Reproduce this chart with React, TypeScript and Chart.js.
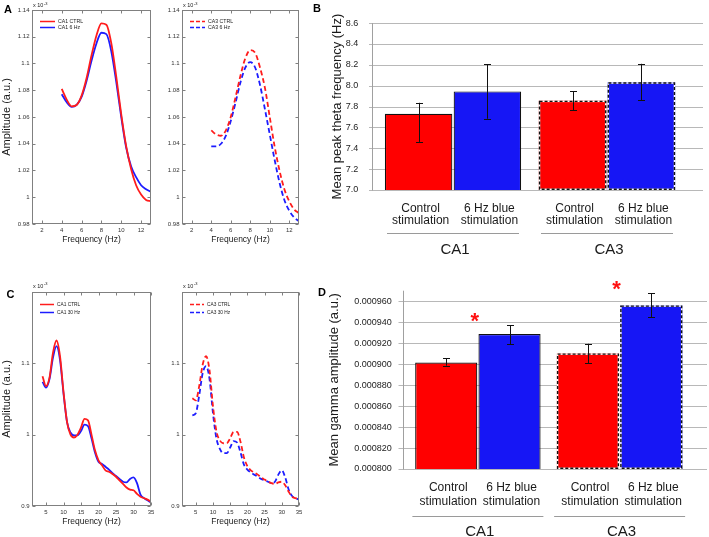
import React, { useEffect, useRef } from "react";
import { Chart, registerables } from "chart.js";

Chart.register(...registerables);

const FONT = '"Liberation Sans", Arial, Helvetica, sans-serif';
const RED_LINE = "#ff1c1c";
const BLUE_LINE = "#1c1cff";
const RED_BAR = "#ff0000";
const BLUE_BAR = "#1616f5";
const TEXT = "#1a1a1a";
const GRID = "#b8b8b8";
const AXIS = "#a0a0a0";
const BOX = "#808080";

// ---------- Panel A: theta-band spectra ----------
const thetaFreqHz = [4, 4.5, 5, 5.5, 6, 6.5, 7, 7.5, 8, 8.5, 9, 9.5, 10, 10.5, 11, 11.5, 12, 12.5, 13];
const ca1ThetaCtrl = [1.081, 1.073, 1.068, 1.069, 1.076, 1.089, 1.106, 1.121, 1.13, 1.129, 1.115, 1.09, 1.062, 1.038, 1.021, 1.009, 1.002, 0.998, 0.997];
const ca1Theta6Hz = [1.077, 1.071, 1.0675, 1.069, 1.075, 1.087, 1.102, 1.115, 1.123, 1.122, 1.109, 1.086, 1.06, 1.037, 1.023, 1.015, 1.009, 1.006, 1.004];
const ca3ThetaCtrl = [1.05, 1.047, 1.046, 1.05, 1.06, 1.075, 1.091, 1.104, 1.11, 1.108, 1.097, 1.082, 1.06, 1.038, 1.02, 1.006, 0.997, 0.991, 0.988];
const ca3Theta6Hz = [1.038, 1.038, 1.04, 1.046, 1.057, 1.071, 1.086, 1.097, 1.101, 1.097, 1.084, 1.066, 1.047, 1.028, 1.011, 0.998, 0.99, 0.985, 0.982];
const thetaLegendCA1 = ["CA1 CTRL", "CA1 6 Hz"];
const thetaLegendCA3 = ["CA3 CTRL", "CA3 6 Hz"];
const thetaAmpTicks = [0.98, 1, 1.02, 1.04, 1.06, 1.08, 1.1, 1.12, 1.14];
const thetaFreqTicks = [2, 4, 6, 8, 10, 12];

// ---------- Panel C: gamma-band spectra ----------
const gammaFreqHz = [4, 5, 6, 7, 8, 9, 10, 11, 12, 13, 14, 15, 16, 17, 18, 19, 20, 21, 22, 23, 24, 25, 26, 27, 28, 29, 30, 31, 32, 33, 34, 35];
const ca1GammaCtrl = [1.082, 1.068, 1.08, 1.115, 1.132, 1.11, 1.06, 1.018, 1.0, 0.996, 1.0, 1.01, 1.022, 1.02, 1.0, 0.978, 0.964, 0.957, 0.95, 0.948, 0.945, 0.941, 0.936, 0.931, 0.926, 0.923, 0.922, 0.917, 0.913, 0.911, 0.909, 0.906];
const ca1Gamma30Hz = [1.074, 1.066, 1.078, 1.108, 1.124, 1.105, 1.058, 1.018, 1.003, 0.999, 0.999, 1.005, 1.014, 1.012, 0.995, 0.975, 0.962, 0.959, 0.955, 0.951, 0.946, 0.942, 0.938, 0.934, 0.933, 0.938, 0.94, 0.932, 0.916, 0.911, 0.908, 0.905];
const ca3GammaCtrl = [1.051, 1.048, 1.068, 1.098, 1.11, 1.09, 1.04, 1.005, 0.992, 0.988, 0.988, 0.995, 1.004, 1.004, 0.99, 0.968, 0.956, 0.95, 0.947, 0.944, 0.94, 0.937, 0.934, 0.932, 0.931, 0.933, 0.934, 0.929, 0.92, 0.913, 0.911, 0.909];
const ca3Gamma30Hz = [1.027, 1.03, 1.055, 1.086, 1.096, 1.078, 1.03, 0.995, 0.98, 0.974, 0.974, 0.982, 0.991, 0.989, 0.975, 0.958, 0.951, 0.947, 0.944, 0.941, 0.938, 0.936, 0.934, 0.932, 0.934, 0.944, 0.95, 0.94, 0.923, 0.914, 0.911, 0.909];
const gammaLegendCA1 = ["CA1 CTRL", "CA1 30 Hz"];
const gammaLegendCA3 = ["CA3 CTRL", "CA3 30 Hz"];
const gammaAmpTicks = [0.9, 1, 1.1];
const gammaFreqTicks = [5, 10, 15, 20, 25, 30, 35];
const ampExponent = "-3";

// ---------- Panel B: peak theta frequency ----------
const regions = ["CA1", "CA3"];
const stimLabels = [["Control", "stimulation"], ["6 Hz blue", "stimulation"]];
const thetaPeakCtrl = [7.73, 7.856];
const thetaPeakCtrlHi = [7.836, 7.945];
const thetaPeakCtrlLo = [7.461, 7.764];
const thetaPeak6Hz = [7.945, 8.032];
const thetaPeak6HzHi = [8.205, 8.21];
const thetaPeak6HzLo = [7.683, 7.859];
const thetaPeakTicks = [7.0, 7.2, 7.4, 7.6, 7.8, 8.0, 8.2, 8.4, 8.6];

// ---------- Panel D: mean gamma amplitude ----------
const gammaAmpCtrl = [0.0009015, 0.0009102];
const gammaAmpCtrlHi = [0.0009055, 0.0009194];
const gammaAmpCtrlLo = [0.0008985, 0.0009009];
const gammaAmp6Hz = [0.0009286, 0.000956];
const gammaAmp6HzHi = [0.0009372, 0.0009677];
const gammaAmp6HzLo = [0.0009188, 0.0009446];
const gammaSignificant = [true, true];
const gammaBarTicks = [0.0008, 0.00082, 0.00084, 0.00086, 0.00088, 0.0009, 0.00092, 0.00094, 0.00096];

// ---------- helpers ----------
function fmtNum(v: number) {
  return String(Number(v.toFixed(4)));
}

function matlabAxes(p: any) {
  return {
    id: "matlabAxes",
    afterDraw(chart: any) {
      const { ctx, chartArea: a } = chart;
      const xs = chart.scales.x;
      const ys = chart.scales.y;
      ctx.save();
      ctx.strokeStyle = BOX;
      ctx.lineWidth = 1;
      const L = Math.round(a.left) + 0.5;
      const T = Math.round(a.top) + 0.5;
      const R = Math.round(a.right) - 0.5;
      const B = Math.round(a.bottom) - 0.5;
      ctx.strokeRect(L, T, R - L, B - T);
      const tl = 3;
      ctx.beginPath();
      for (const t of xs.ticks) {
        const px = Math.round(xs.getPixelForValue(t.value)) + 0.5;
        ctx.moveTo(px, B);
        ctx.lineTo(px, B - tl);
        ctx.moveTo(px, T);
        ctx.lineTo(px, T + tl);
      }
      for (const t of ys.ticks) {
        const py = Math.round(ys.getPixelForValue(t.value)) + 0.5;
        ctx.moveTo(L, py);
        ctx.lineTo(L + tl, py);
        ctx.moveTo(R, py);
        ctx.lineTo(R - tl, py);
      }
      ctx.stroke();

      // exponent label
      ctx.fillStyle = TEXT;
      ctx.textAlign = "left";
      ctx.textBaseline = "alphabetic";
      ctx.font = `5.5px ${FONT}`;
      const bx = a.left + 1;
      const by = a.top - p.expGap;
      ctx.fillText("x 10", bx, by);
      const w = ctx.measureText("x 10").width;
      ctx.font = `4px ${FONT}`;
      ctx.fillText(ampExponent, bx + w + 0.5, by - 2.5);

      // legend
      chart.data.datasets.forEach((ds: any, i: number) => {
        const y = Math.round(a.top + p.leg.top + i * p.leg.gap) + 0.5;
        ctx.strokeStyle = ds.borderColor;
        ctx.lineWidth = 1.5;
        ctx.setLineDash(ds.borderDash && ds.borderDash.length ? [4, 2] : []);
        ctx.beginPath();
        ctx.moveTo(a.left + p.leg.x0, y);
        ctx.lineTo(a.left + p.leg.x1, y);
        ctx.stroke();
        ctx.setLineDash([]);
        ctx.fillStyle = TEXT;
        ctx.font = `${p.leg.font}px ${FONT}`;
        ctx.textBaseline = "middle";
        ctx.fillText(ds.label, a.left + p.leg.tx, y);
      });
      ctx.restore();
    },
  };
}

function lineConfig(p: any) {
  return {
    type: "line",
    data: {
      datasets: p.series.map((s: any) => ({
        label: s.label,
        data: p.freqs.map((f: number, i: number) => ({ x: f, y: s.values[i] })),
        borderColor: s.color,
        borderWidth: 1.8,
        borderDash: s.dash,
        pointRadius: 0,
        cubicInterpolationMode: "monotone",
        fill: false,
      })),
    },
    options: {
      responsive: false,
      animation: false,
      events: [],
      layout: { padding: { top: p.padTop, right: p.padRight, left: 0, bottom: 0 } },
      plugins: { legend: { display: false }, tooltip: { enabled: false } },
      scales: {
        x: {
          type: "linear",
          min: p.xMin,
          max: p.xMax,
          afterBuildTicks: (s: any) => {
            s.ticks = p.xTicks.map((v: number) => ({ value: v }));
          },
          afterFit: (s: any) => {
            s.height = p.xAxisH;
          },
          grid: { display: false, drawTicks: false },
          border: { display: false },
          ticks: {
            padding: 2.5,
            autoSkip: false,
            maxRotation: 0,
            color: "#333",
            font: { family: FONT, size: 6 },
            callback: (v: any) => fmtNum(Number(v)),
          },
          title: {
            display: true,
            text: "Frequency (Hz)",
            color: TEXT,
            font: { family: FONT, size: 8.5 },
            padding: { top: 0, bottom: p.xTitlePad },
          },
        },
        y: {
          type: "linear",
          min: p.yMin,
          max: p.yMax,
          afterBuildTicks: (s: any) => {
            s.ticks = p.yTicks.map((v: number) => ({ value: v }));
          },
          afterFit: (s: any) => {
            s.width = p.yAxisW;
          },
          grid: { display: false, drawTicks: false },
          border: { display: false },
          ticks: {
            padding: 2.5,
            autoSkip: false,
            color: "#333",
            font: { family: FONT, size: 6 },
            callback: (v: any) => fmtNum(Number(v)),
          },
          title: {
            display: p.showYTitle,
            text: "Amplitude (a.u.)",
            color: TEXT,
            font: { family: FONT, size: 11 },
            padding: { top: 0, bottom: 0 },
          },
        },
      },
    },
    plugins: [matlabAxes(p)],
  };
}

function barDecor(p: any) {
  return {
    id: "barDecor",
    beforeDatasetsDraw(chart: any) {
      const { ctx, chartArea: a } = chart;
      const ys = chart.scales.y;
      const axisX = Math.round(a.left - p.axisGap) + 0.5;
      ctx.save();
      ctx.lineWidth = 1;
      ctx.strokeStyle = GRID;
      ctx.beginPath();
      for (const t of ys.ticks) {
        const py = Math.round(ys.getPixelForValue(t.value)) + 0.5;
        ctx.moveTo(axisX - p.tickLen, py);
        ctx.lineTo(a.right + p.gridExt, py);
      }
      ctx.stroke();
      ctx.strokeStyle = AXIS;
      ctx.beginPath();
      ctx.moveTo(axisX, a.top);
      ctx.lineTo(axisX, Math.round(a.bottom) + 0.5);
      ctx.stroke();
      ctx.restore();
    },
    afterDatasetsDraw(chart: any) {
      const { ctx, chartArea: a } = chart;
      const ys = chart.scales.y;
      ctx.save();
      const metas = chart.data.datasets.map((_: any, di: number) => chart.getDatasetMeta(di));
      metas.forEach((meta: any, di: number) => {
        meta.data.forEach((el: any, i: number) => {
          const { x, y, base, width } = el.getProps(["x", "y", "base", "width"], true);
          const bottom = Math.min(base, a.bottom);
          if (p.dashed[i]) {
            const lw = 1.4;
            const l = x - width / 2 + lw / 2;
            const t = y + lw / 2;
            const w = width - lw;
            const h = bottom - y - lw;
            ctx.lineWidth = lw;
            ctx.setLineDash([]);
            ctx.strokeStyle = "#ffffff";
            ctx.strokeRect(l, t, w, h);
            ctx.setLineDash([3, 2]);
            ctx.strokeStyle = "#111";
            ctx.strokeRect(l, t, w, h);
            ctx.setLineDash([]);
          }
          // error bar
          const hi = ys.getPixelForValue(p.hi[di][i]);
          const lo = ys.getPixelForValue(p.lo[di][i]);
          const cx = Math.round(x) + 0.5;
          ctx.strokeStyle = "#111";
          ctx.lineWidth = 1;
          ctx.beginPath();
          ctx.moveTo(cx, hi);
          ctx.lineTo(cx, lo);
          ctx.moveTo(cx - 3.5, Math.round(hi) + 0.5);
          ctx.lineTo(cx + 3.5, Math.round(hi) + 0.5);
          ctx.moveTo(cx - 3.5, Math.round(lo) + 0.5);
          ctx.lineTo(cx + 3.5, Math.round(lo) + 0.5);
          ctx.stroke();
          // sub labels
          ctx.fillStyle = TEXT;
          ctx.font = `12px ${FONT}`;
          ctx.textAlign = "center";
          ctx.textBaseline = "middle";
          const lines = stimLabels[di];
          ctx.fillText(lines[0], x + 2, a.bottom + p.l1);
          ctx.fillText(lines[1], x + 2, a.bottom + p.l2);
        });
      });
      chart.data.labels.forEach((lab: string, i: number) => {
        const x0 = metas[0].data[i].x;
        const x1 = metas[1].data[i].x;
        const cx = (x0 + x1) / 2;
        ctx.strokeStyle = "#9a9a9a";
        ctx.lineWidth = 1;
        ctx.beginPath();
        const sy = Math.round(a.bottom + p.sepY) + 0.5;
        ctx.moveTo(cx - p.sepHalf, sy);
        ctx.lineTo(cx + p.sepHalf, sy);
        ctx.stroke();
        ctx.fillStyle = TEXT;
        ctx.font = `15px ${FONT}`;
        ctx.textAlign = "center";
        ctx.textBaseline = "middle";
        ctx.fillText(lab, cx + 2, a.bottom + p.grpY);
        if (p.sig && p.sig[i]) {
          const top = Math.min(ys.getPixelForValue(p.hi[0][i]), ys.getPixelForValue(p.hi[1][i]));
          const cy = top - p.astGap;
          ctx.fillStyle = "#ff1010";
          ctx.font = `bold 22px ${FONT}`;
          ctx.textBaseline = "alphabetic";
          ctx.fillText("*", cx + p.astDx, cy + 12.6);
        }
      });
      ctx.restore();
    },
  };
}

function barConfig(p: any) {
  return {
    type: "bar",
    data: {
      labels: regions,
      datasets: [
        {
          label: "Control stimulation",
          data: p.ctrl,
          backgroundColor: RED_BAR,
          borderColor: "#111",
          borderWidth: p.dashed.map((d: boolean) => (d ? 0 : 1.2)),
          borderSkipped: false,
        },
        {
          label: "6 Hz blue stimulation",
          data: p.stim,
          backgroundColor: BLUE_BAR,
          borderColor: "#111",
          borderWidth: p.dashed.map((d: boolean) => (d ? 0 : 1.2)),
          borderSkipped: false,
        },
      ],
    },
    options: {
      responsive: false,
      animation: false,
      events: [],
      layout: { padding: { top: p.padTop, right: p.padRight, bottom: p.padBottom, left: 0 } },
      datasets: { bar: { categoryPercentage: p.catPct, barPercentage: p.barPct } },
      plugins: { legend: { display: false }, tooltip: { enabled: false } },
      scales: {
        x: { display: false },
        y: {
          min: p.min,
          max: p.max,
          afterBuildTicks: (s: any) => {
            s.ticks = p.ticks.map((v: number) => ({ value: v }));
          },
          afterFit: (s: any) => {
            s.width = p.yAxisW;
          },
          grid: { display: false, drawTicks: false },
          border: { display: false },
          ticks: {
            padding: p.tickPad,
            autoSkip: false,
            color: "#222",
            font: { family: FONT, size: 9 },
            callback: (v: any) => p.fmt(Number(v)),
          },
          title: {
            display: true,
            text: p.title,
            color: TEXT,
            font: { family: FONT, size: 13 },
            padding: { top: p.titlePadTop, bottom: 0 },
          },
        },
      },
    },
    plugins: [barDecor(p)],
  };
}

function ChartCanvas(props: { left: number; top: number; width: number; height: number; make: () => any }) {
  const ref = useRef<HTMLCanvasElement | null>(null);
  useEffect(() => {
    if (!ref.current) return;
    const chart = new Chart(ref.current, props.make());
    return () => chart.destroy();
  }, []);
  return (
    <canvas
      ref={ref}
      width={props.width}
      height={props.height}
      style={{ position: "absolute", left: props.left, top: props.top, width: props.width, height: props.height }}
    />
  );
}

const thetaLineBase = {
  padTop: 10,
  xAxisH: 26,
  xTitlePad: 5.6,
  xMin: 1,
  xMax: 13,
  yMin: 0.98,
  yMax: 1.14,
  xTicks: thetaFreqTicks,
  yTicks: thetaAmpTicks,
  freqs: thetaFreqHz,
  leg: { top: 10.5, gap: 6, x0: 8, x1: 23, tx: 26, font: 5.2 },
  expGap: 3,
};

const gammaLineBase = {
  padTop: 22,
  xAxisH: 31,
  xTitlePad: 10.2,
  xMin: 1,
  xMax: 35,
  yMin: 0.9,
  yMax: 1.2,
  xTicks: gammaFreqTicks,
  yTicks: gammaAmpTicks,
  freqs: gammaFreqHz,
  leg: { top: 12, gap: 8, x0: 8, x1: 22, tx: 25, font: 4.8 },
  expGap: 4.5,
};

const letter = (left: number, top: number): any => ({
  position: "absolute",
  left,
  top,
  font: `bold 11px ${FONT}`,
  lineHeight: "11px",
  color: "#000",
});

export default function App() {
  return (
    <div style={{ position: "absolute", left: 0, top: 0, width: 709, height: 537, background: "#fff", overflow: "hidden" }}>
      <ChartCanvas
        left={0}
        top={0}
        width={160}
        height={250}
        make={() =>
          lineConfig({
            ...thetaLineBase,
            padRight: 9,
            yAxisW: 32,
            showYTitle: true,
            series: [
              { label: thetaLegendCA1[0], values: ca1ThetaCtrl, color: RED_LINE, dash: [] },
              { label: thetaLegendCA1[1], values: ca1Theta6Hz, color: BLUE_LINE, dash: [] },
            ],
          })
        }
      />
      <ChartCanvas
        left={160}
        top={0}
        width={150}
        height={250}
        make={() =>
          lineConfig({
            ...thetaLineBase,
            padRight: 11,
            yAxisW: 22,
            showYTitle: false,
            series: [
              { label: thetaLegendCA3[0], values: ca3ThetaCtrl, color: RED_LINE, dash: [5, 3] },
              { label: thetaLegendCA3[1], values: ca3Theta6Hz, color: BLUE_LINE, dash: [5, 3] },
            ],
          })
        }
      />
      <ChartCanvas
        left={0}
        top={270}
        width={160}
        height={267}
        make={() =>
          lineConfig({
            ...gammaLineBase,
            padRight: 9,
            yAxisW: 32,
            showYTitle: true,
            series: [
              { label: gammaLegendCA1[0], values: ca1GammaCtrl, color: RED_LINE, dash: [] },
              { label: gammaLegendCA1[1], values: ca1Gamma30Hz, color: BLUE_LINE, dash: [] },
            ],
          })
        }
      />
      <ChartCanvas
        left={160}
        top={270}
        width={150}
        height={267}
        make={() =>
          lineConfig({
            ...gammaLineBase,
            padRight: 11,
            yAxisW: 22,
            showYTitle: false,
            series: [
              { label: gammaLegendCA3[0], values: ca3GammaCtrl, color: RED_LINE, dash: [5, 3] },
              { label: gammaLegendCA3[1], values: ca3Gamma30Hz, color: BLUE_LINE, dash: [5, 3] },
            ],
          })
        }
      />
      <ChartCanvas
        left={320}
        top={0}
        width={389}
        height={265}
        make={() =>
          barConfig({
            ctrl: thetaPeakCtrl,
            stim: thetaPeak6Hz,
            hi: [thetaPeakCtrlHi, thetaPeak6HzHi],
            lo: [thetaPeakCtrlLo, thetaPeak6HzLo],
            dashed: [false, true],
            padTop: 5,
            padRight: 25,
            padBottom: 75,
            yAxisW: 56,
            tickPad: 17.7,
            titlePadTop: 9.2,
            min: 7,
            max: 8.6,
            ticks: thetaPeakTicks,
            fmt: (v: number) => v.toFixed(1),
            title: "Mean peak theta frequency (Hz)",
            catPct: 0.8935,
            barPct: 0.981,
            axisGap: 4.3,
            tickLen: 3.5,
            gridExt: 19,
            l1: 18.3,
            l2: 30.5,
            sepY: 43.3,
            sepHalf: 66,
            grpY: 60,
            sig: null,
          })
        }
      />
      <ChartCanvas
        left={320}
        top={270}
        width={389}
        height={267}
        make={() =>
          barConfig({
            ctrl: gammaAmpCtrl,
            stim: gammaAmp6Hz,
            hi: [gammaAmpCtrlHi, gammaAmp6HzHi],
            lo: [gammaAmpCtrlLo, gammaAmp6HzLo],
            dashed: [false, true],
            padTop: 13,
            padRight: 18.5,
            padBottom: 68,
            yAxisW: 87,
            tickPad: 15.3,
            titlePadTop: 6.2,
            min: 0.0008,
            max: 0.00097,
            ticks: gammaBarTicks,
            fmt: (v: number) => v.toFixed(6),
            title: "Mean gamma amplitude (a.u.)",
            catPct: 0.893,
            barPct: 0.982,
            axisGap: 4.5,
            tickLen: 5,
            gridExt: 16.5,
            l1: 18.3,
            l2: 32.7,
            sepY: 47,
            sepHalf: 65.5,
            grpY: 62.7,
            sig: gammaSignificant,
            astDx: -3,
            astGap: 9.5,
          })
        }
      />
      <div style={letter(4, 3.6)}>A</div>
      <div style={letter(313, 2.6)}>B</div>
      <div style={letter(6.5, 288.6)}>C</div>
      <div style={letter(318, 287)}>D</div>
    </div>
  );
}
